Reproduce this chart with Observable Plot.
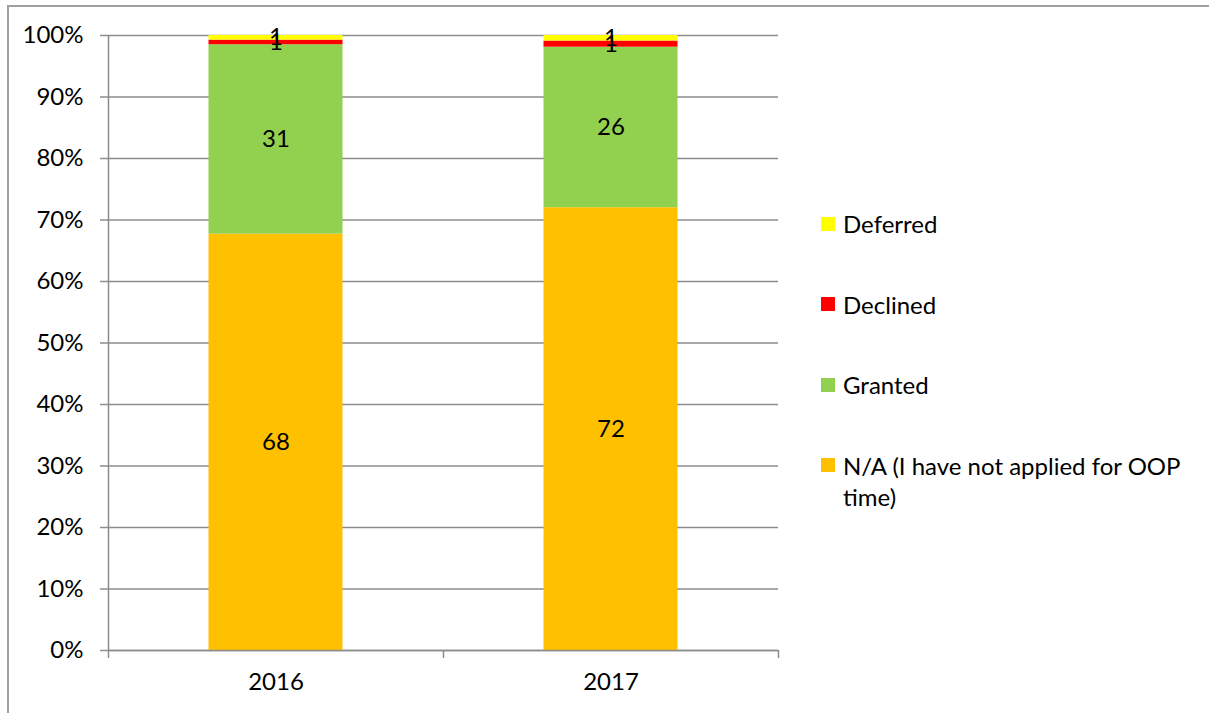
<!DOCTYPE html>
<html><head><meta charset="utf-8">
<script src="https://cdn.jsdelivr.net/npm/d3@7"></script>
<script src="https://cdn.jsdelivr.net/npm/@observablehq/plot@0.6"></script>
<style>
body{margin:0;background:#fff;}
#wrap{position:relative;width:1209px;height:713px;overflow:hidden;font-family:Lato,sans-serif;background:#fff;}
#frame{position:absolute;left:7px;top:5px;right:-10px;bottom:-10px;border-left:2px solid #a0a0a0;border-top:2px solid #a0a0a0;}
#chart{position:absolute;left:0;top:0;}
#legend{position:absolute;left:821px;top:208px;width:385px;font-size:24px;line-height:31px;color:#000;}
.item{display:flex;align-items:flex-start;margin-bottom:49.5px;}
.sw{width:14px;height:14px;flex:none;margin-top:8.5px;margin-right:8px;}
</style></head>
<body><div id="wrap"><div id="frame"></div><div id="chart"></div><div id="legend"></div></div>
<script>
const years = ["2016", "2017"];
const categories = ["N/A (I have not applied for OOP time)", "Granted", "Declined", "Deferred"];
const colors = ["#FFC000", "#92D050", "#FF0000", "#FFFF00"];
const naValues = [67.7, 72.0];
const grantedValues = [30.8, 26.1];
const declinedValues = [0.75, 1.0];
const deferredValues = [0.75, 0.9];
const yTicks = [0, 10, 20, 30, 40, 50, 60, 70, 80, 90, 100];

const seriesValues = [naValues, grantedValues, declinedValues, deferredValues];
const data = [];
years.forEach((yr, i) => {
  categories.forEach((c, k) => {
    data.push({i, year: yr, category: c, value: seriesValues[k][i]});
  });
});

const font = "Lato, sans-serif";
const grid = "#8c8c8c";
const fs = 24;

const plot = Plot.plot({
  width: 800,
  height: 713,
  marginLeft: 108,
  marginRight: 22,
  marginTop: 35,
  marginBottom: 63,
  style: {fontFamily: font, fontSize: fs + "px", color: "#000", background: "transparent"},
  x: {domain: [0, years.length], axis: null},
  y: {domain: [0, 100], axis: null},
  color: {domain: categories, range: colors},
  marks: [
    Plot.gridY(yTicks, {stroke: grid, strokeOpacity: 1, strokeWidth: 1.5}),
    Plot.rectY(data, {
      x1: d => d.i + 0.3,
      x2: d => d.i + 0.7,
      y: "value",
      fill: "category",
      order: categories
    }),
    Plot.text(data, Plot.stackY({
      x: d => d.i + 0.5,
      y: "value",
      z: "category",
      order: categories,
      text: d => String(Math.round(d.value)),
      fill: "#000",
      fontSize: fs,
      fontFamily: font
    })),
    Plot.axisY(yTicks, {
      tickSize: 8, tickPadding: 17, stroke: grid, strokeWidth: 1.5,
      tickFormat: d => d + "%", fontSize: fs, fill: "#000", label: null
    }),
    Plot.axisX(d3.range(years.length + 1), {
      tickSize: 8, stroke: grid, strokeWidth: 1.5, tickFormat: () => "", label: null
    }),
    Plot.axisX(years.map((y, i) => i + 0.5), {
      tickSize: 0, tickPadding: 22, tickFormat: d => years[Math.floor(d)],
      fontSize: fs, fill: "#000", label: null
    }),
    Plot.ruleX([0], {stroke: grid, strokeWidth: 1.5}),
    Plot.ruleY([0], {stroke: grid, strokeWidth: 1.5})
  ]
});
document.getElementById("chart").appendChild(plot);

const legend = document.getElementById("legend");
[...categories.keys()].reverse().forEach(k => {
  const item = document.createElement("div");
  item.className = "item";
  const sw = document.createElement("span");
  sw.className = "sw";
  sw.style.background = colors[k];
  const t = document.createElement("span");
  t.textContent = categories[k];
  item.appendChild(sw);
  item.appendChild(t);
  legend.appendChild(item);
});
</script>
</body></html>
